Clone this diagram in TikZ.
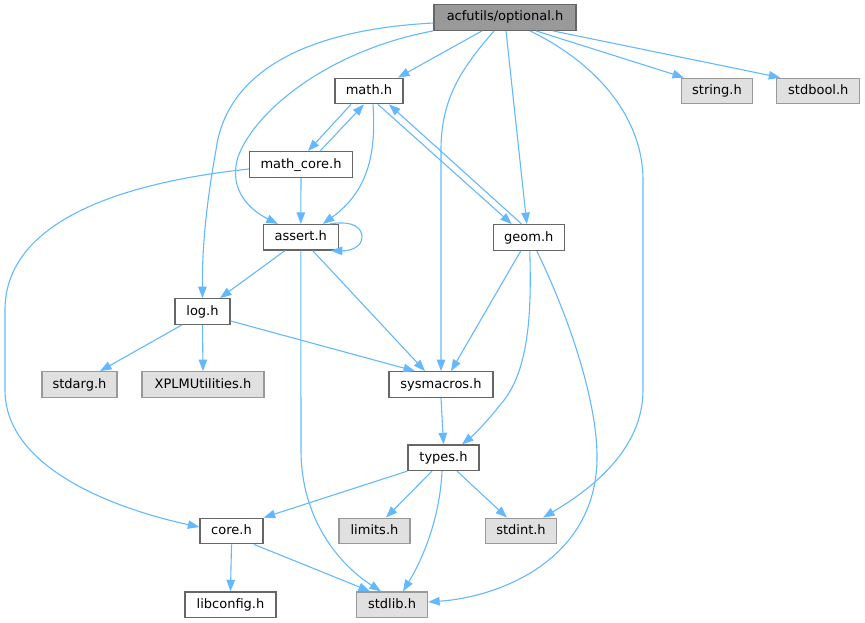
\documentclass[tikz,border=0pt]{standalone}
\usepackage{fontspec}
\setmainfont{DejaVu Sans}
\usetikzlibrary{arrows.meta}
\definecolor{edgec}{HTML}{63B8FF}
\definecolor{bordw}{HTML}{666666}
\definecolor{bordg}{HTML}{999999}
\definecolor{fillg}{HTML}{E0E0E0}
\definecolor{fillr}{HTML}{999999}
\tikzset{
  box/.style={draw, line width=1.3pt, inner sep=0pt, minimum height=25.5pt,
    text height=9.6pt, text depth=2.6pt, font=\fontsize{13}{15}\selectfont},
  wnode/.style={box, draw=bordw, fill=white},
  gnode/.style={box, draw=bordg, fill=fillg},
  rnode/.style={box, draw=bordw, fill=fillr},
  dep/.style={draw=edgec, line width=1.1pt, -{Triangle[length=11.5pt,width=8.5pt,fill=edgec]}},
}
\begin{document}
\begin{tikzpicture}[x=1pt,y=-1pt]
\useasboundingbox (0,0) rectangle (865,623);
% nodes
\node[rnode, minimum width=142pt] (opt) at (505,17.5) {acfutils/optional.h};
\node[wnode, minimum width=68pt] (math) at (369,91) {math.h};
\node[gnode, minimum width=71pt] (string) at (717,91) {string.h};
\node[gnode, minimum width=83pt] (stdbool) at (818.3,91) {stdbool.h};
\node[wnode, minimum width=103pt] (mcore) at (301,164.5) {math\_core.h};
\node[wnode, minimum width=75pt] (assert) at (300.8,237.3) {assert.h};
\node[wnode, minimum width=71pt] (geom) at (528.8,237.5) {geom.h};
\node[wnode, minimum width=55pt] (log) at (202.5,311.5) {log.h};
\node[gnode, minimum width=75pt] (stdarg) at (79.5,384.5) {stdarg.h};
\node[gnode, minimum width=122pt] (xplm) at (203,384.5) {XPLMUtilities.h};
\node[wnode, minimum width=104pt] (sysm) at (441,384.5) {sysmacros.h};
\node[wnode, minimum width=71pt] (types) at (443.5,457.7) {types.h};
\node[wnode, minimum width=63pt] (core) at (231.5,531) {core.h};
\node[gnode, minimum width=71pt] (limits) at (374.5,531) {limits.h};
\node[gnode, minimum width=71pt] (stdint) at (521,531) {stdint.h};
\node[wnode, minimum width=91pt] (libcfg) at (230.5,604.7) {libconfig.h};
\node[gnode, minimum width=71pt] (stdlib) at (392,604.7) {stdlib.h};
% edges from optional.h
\draw[dep] ([xshift=-23pt]opt.south) -- ([xshift=29pt]math.north);
\draw[dep] ([yshift=-5.5pt]opt.west) .. controls (300,30) and (226,75) .. (216,150)
   .. controls (206,205) and (202,250) .. (log.north);
\draw[dep] (opt.south west) .. controls (330,50) and (255,110) .. (238,157)
   .. controls (228,190) and (250,210) .. ([xshift=-23pt]assert.north);
\draw[dep] ([xshift=-11pt]opt.south) .. controls (460,70) and (441,100) .. (441,150) -- (sysm.north);
\draw[dep] ([xshift=1pt]opt.south) -- ([xshift=-2pt]geom.north);
\draw[dep] ([xshift=25pt]opt.south) .. controls (600,65) and (643,120) .. (643,180) -- (643,390)
   .. controls (643,450) and (590,490) .. ([xshift=22pt]stdint.north);
\draw[dep] ([xshift=31pt]opt.south) -- ([xshift=-33pt]string.north);
\draw[dep] ([xshift=48pt]opt.south) -- ([xshift=-38pt]stdbool.north);
% math.h and math_core.h
\draw[dep] ([xshift=-18pt]math.south) -- ([xshift=7pt]mcore.north);
\draw[dep] ([xshift=19pt]mcore.north) -- ([xshift=-5pt]math.south);
\draw[dep] ([xshift=4pt]math.south) .. controls (376,150) and (370,190) .. ([xshift=22pt]assert.north);
\draw[dep] ([xshift=9pt]math.south) -- ([xshift=-17pt]geom.north);
\draw[dep] ([xshift=-7pt]geom.north) -- ([xshift=20pt]math.south);
\draw[dep] (mcore.south) -- (assert.north);
\draw[dep] ([yshift=-4.5pt]mcore.west) .. controls (100,185) and (5,230) .. (5,310) -- (5,390)
   .. controls (5,470) and (120,510) .. ([yshift=4pt]core.west);
% assert.h
\draw[dep] ([xshift=29pt]assert.north) .. controls (355,220) and (362,229) .. (362,237)
   .. controls (362,246) and (352,251) .. ([xshift=30pt]assert.south);
\draw[dep] ([xshift=-16pt]assert.south) -- ([xshift=17.5pt]log.north);
\draw[dep] (assert.south) -- (301,450) .. controls (301,520) and (340,565) .. ([xshift=-11pt]stdlib.north);
\draw[dep] ([xshift=12pt]assert.south) -- ([xshift=-16pt]sysm.north);
% geom.h
\draw[dep] ([xshift=-8pt]geom.south) -- ([xshift=10pt]sysm.north);
\draw[dep] ([xshift=1pt]geom.south) .. controls (531,300) and (532,370) .. (500,405)
   .. controls (490,418) and (476,433) .. ([xshift=18.5pt]types.north);
\draw[dep] ([xshift=8pt]geom.south) .. controls (575,330) and (598,410) .. (597,460)
   .. controls (595,560) and (500,597) .. ([yshift=2.7pt]stdlib.east);
% log.h
\draw[dep] ([xshift=-20.5pt]log.south) -- ([xshift=20.5pt]stdarg.north);
\draw[dep] (log.south) -- (xplm.north);
\draw[dep] ([yshift=-9.5pt]log.east) -- ([xshift=-26pt]sysm.north);
% sysmacros, types
\draw[dep] (sysm.south) -- (types.north);
\draw[dep] (types.south west) -- (core.north east);
\draw[dep] ([xshift=-11.5pt]types.south) -- ([xshift=11.5pt]limits.north);
\draw[dep] ([xshift=-1.5pt]types.south) .. controls (440,515) and (425,555) .. ([xshift=11pt]stdlib.north);
\draw[dep] ([xshift=13.5pt]types.south) -- ([xshift=-14pt]stdint.north);
% core.h
\draw[dep] (core.south) -- (libcfg.north);
\draw[dep] ([xshift=22.5pt]core.south) -- ([xshift=-22pt]stdlib.north);
\end{tikzpicture}
\end{document}
